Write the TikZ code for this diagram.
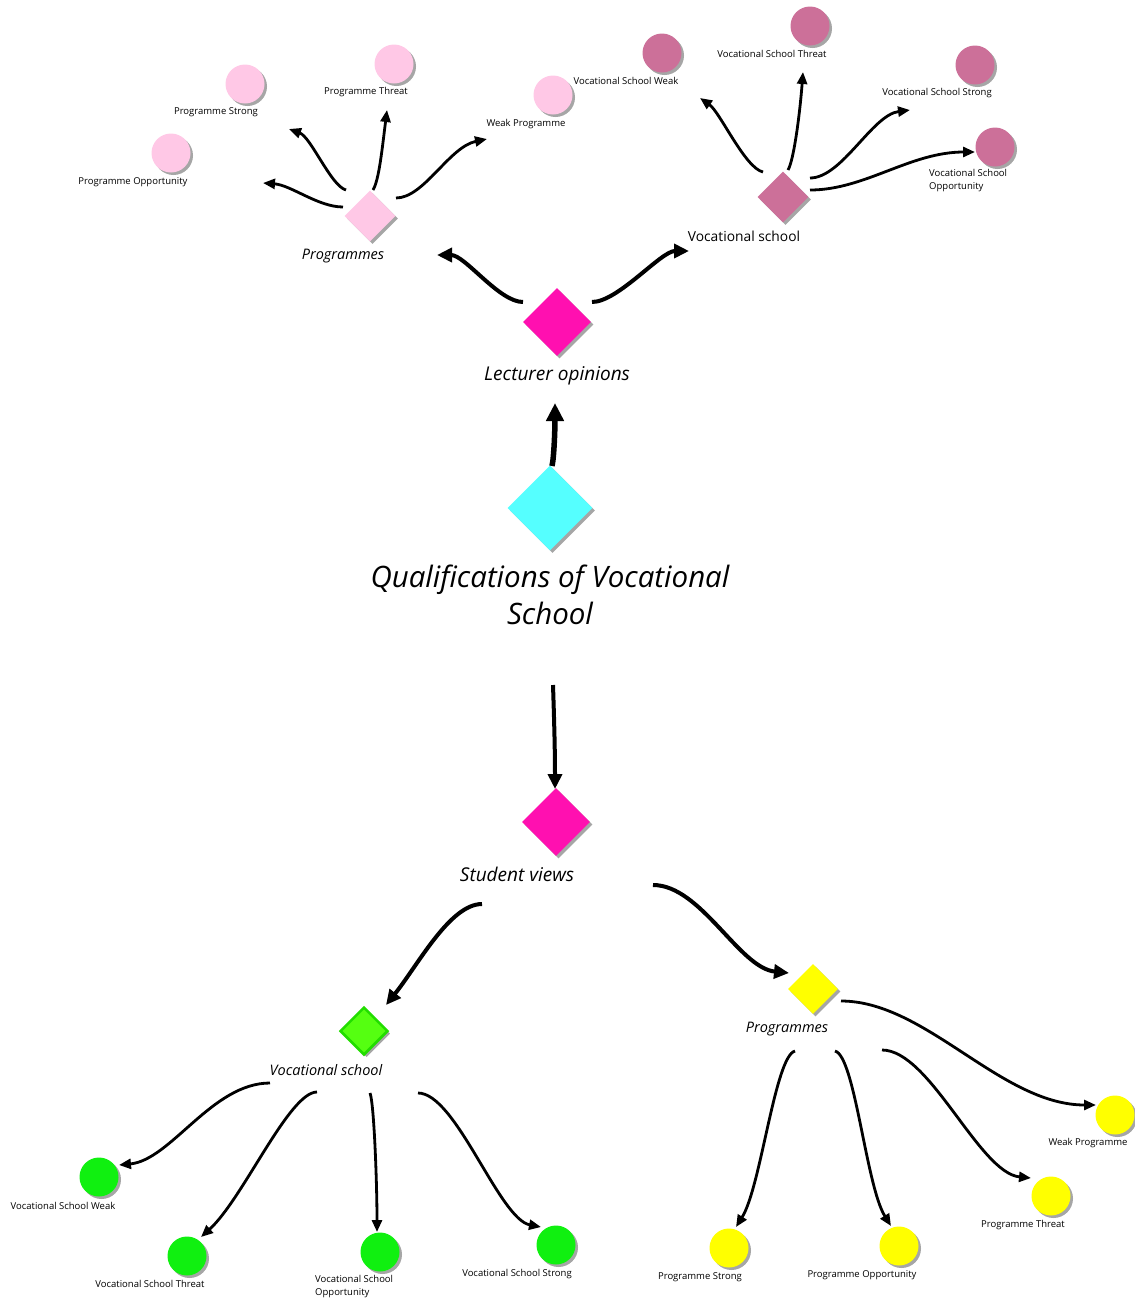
\documentclass[tikz,border=0pt]{standalone}
\usepackage{fontspec}
\setmainfont{Open Sans}
\usetikzlibrary{arrows.meta,shapes.geometric,shadows}

\definecolor{pinkL}{HTML}{FFC8E6}
\definecolor{mauve}{HTML}{CC7099}
\definecolor{magHot}{HTML}{FF10B0}
\definecolor{cyanQ}{HTML}{55FFFF}
\definecolor{grnC}{HTML}{10F010}
\definecolor{grnD}{HTML}{55FF11}
\definecolor{grnE}{HTML}{22DD00}
\definecolor{yelC}{HTML}{FFFF00}

\begin{document}
\begin{tikzpicture}[x=1pt, y=-1pt,
  shad/.style={drop shadow={shadow xshift=2.5pt, shadow yshift=-2.5pt, fill=black!35, opacity=1}},
  dia/.style={diamond, inner sep=0pt, minimum width=#1, minimum height=#1, shad},
  bub/.style={circle, inner sep=0pt, minimum size=39pt, shad},
  lbl/.style={inner sep=0pt, font=\fontsize{9.5}{13}\selectfont},
  hdM/.style={inner sep=0pt, font=\fontsize{14.5}{17}\selectfont\itshape},
  hdL/.style={inner sep=0pt, font=\fontsize{19}{23}\selectfont\itshape},
  link/.style={line width=2.8pt, -{Stealth[length=12pt, width=10pt, inset=0pt]}},
  linkB/.style={line width=4pt, -{Stealth[length=15pt, width=14pt, inset=0pt]}},
  linkC/.style={line width=5.5pt, -{Stealth[length=18pt, width=17pt, inset=0pt]}}]

  % ── centre ──
  \node[dia=85pt, fill=cyanQ] (qv) at (550,508) {};
  \node[inner sep=0pt, align=center, font=\fontsize{29.5}{37}\selectfont\itshape] (qvT) at (550,595)
    {Qualifications of Vocational\\School};

  \node[dia=68pt, fill=magHot] (lo) at (557,322) {};
  \node[hdL] (loT) at (557,376) {Lecturer opinions};

  \node[dia=68pt, fill=magHot] (sv) at (556,822) {};
  \node[hdL] (svT) at (517,874) {Student views};

  % ── lecturer: programmes ──
  \node[dia=51pt, fill=pinkL] (pgT) at (370,216) {};
  \node[hdM] (pgTT) at (343,256) {Programmes};
  \node[bub, fill=pinkL] (pgTs) at (245,84) {};
  \node[bub, fill=pinkL] (pgTt) at (394,64) {};
  \node[bub, fill=pinkL] (pgTo) at (171,153) {};
  \node[bub, fill=pinkL] (pgTw) at (553,95) {};
  \node[lbl] at (216,112) {Programme Strong};
  \node[lbl] at (366,92) {Programme Threat};
  \node[lbl] at (133,182) {Programme Opportunity};
  \node[lbl] at (526,124) {Weak Programme};

  % ── lecturer: vocational school ──
  \node[dia=51pt, fill=mauve] (vsT) at (783,197) {};
  \node[inner sep=0pt, font=\fontsize{13.8}{16}\selectfont] (vsTT) at (744,236) {Vocational school};
  \node[bub, fill=mauve] (vsTw) at (662,53) {};
  \node[bub, fill=mauve] (vsTt) at (810,26) {};
  \node[bub, fill=mauve] (vsTs) at (975,65) {};
  \node[bub, fill=mauve] (vsTo) at (995,147) {};
  \node[lbl] at (626,81) {Vocational School Weak};
  \node[lbl] at (772,54) {Vocational School Threat};
  \node[lbl] at (937,93) {Vocational School Strong};
  \node[lbl, anchor=west, align=left] at (929,181) {Vocational School\\Opportunity};

  % ── student: vocational school ──
  \node[dia=48pt, fill=grnD, draw=grnE, line width=2.5pt] (vsB) at (364,1031) {};
  \node[hdM] (vsBT) at (326,1070) {Vocational school};
  \node[bub, fill=grnC] (vsBw) at (99,1177) {};
  \node[bub, fill=grnC] (vsBt) at (187,1256) {};
  \node[bub, fill=grnC] (vsBo) at (380,1252) {};
  \node[bub, fill=grnC] (vsBs) at (556,1245) {};
  \node[lbl] at (63,1206) {Vocational School Weak};
  \node[lbl] at (150,1284) {Vocational School Threat};
  \node[lbl, anchor=west, align=left] at (315,1287) {Vocational School\\Opportunity};
  \node[lbl] at (517,1274) {Vocational School Strong};

  % ── student: programmes ──
  \node[dia=50pt, fill=yelC] (pgB) at (813,989) {};
  \node[hdM] (pgBT) at (787,1029) {Programmes};
  \node[bub, fill=yelC] (pgBw) at (1115,1115) {};
  \node[bub, fill=yelC] (pgBt) at (1051,1196) {};
  \node[bub, fill=yelC] (pgBs) at (729,1248) {};
  \node[bub, fill=yelC] (pgBo) at (899,1246) {};
  \node[lbl] at (1088,1143) {Weak Programme};
  \node[lbl] at (1023,1225) {Programme Threat};
  \node[lbl] at (700,1277) {Programme Strong};
  \node[lbl] at (862,1275) {Programme Opportunity};

  % ── main arrows ──
  \draw[linkC] ([shift={(2,-42)}]qv.center) .. controls +(2,-8) and +(0,25) .. ([shift={(-2,81)}]lo.center);
  \draw[linkB] ([shift={(3,177)}]qv.center) .. controls +(1,30) and +(0,-40) .. ([shift={(-1,-33)}]sv.center);
  \draw[linkB] ([shift={(-34,-20)}]lo.center) .. controls +(-24,0) and +(28,0) .. ([shift={(67,39)}]pgT.center);
  \draw[linkB] ([shift={(35,-20)}]lo.center) .. controls +(26,0) and +(-28,0) .. ([shift={(-94,54)}]vsT.center);
  \draw[linkB] ([shift={(-74,82)}]sv.center) .. controls +(-32,0) and +(32,-40) .. ([shift={(22,-26)}]vsB.center);
  \draw[linkB] ([shift={(97,63)}]sv.center) .. controls +(48,0) and +(-50,-5) .. ([shift={(-24,-16)}]pgB.center);

  % ── top left ──
  \draw[link] ([shift={(-27,-9)}]pgT.center) .. controls +(-25,0) and +(28,2) .. ([shift={(92,30)}]pgTo.center);
  \draw[link] ([shift={(-24,-26)}]pgT.center) .. controls +(-15,-4) and +(22,8) .. ([shift={(44,45)}]pgTs.center);
  \draw[link] ([shift={(3,-26)}]pgT.center) .. controls +(6,-10) and +(-5,40) .. ([shift={(-7,46)}]pgTt.center);
  \draw[link] ([shift={(26,-18)}]pgT.center) .. controls +(28,0) and +(-38,8) .. ([shift={(-66,44)}]pgTw.center);

  % ── top right ──
  \draw[link] ([shift={(-20,-25)}]vsT.center) .. controls +(-18,-4) and +(20,14) .. ([shift={(38,45)}]vsTw.center);
  \draw[link] ([shift={(5,-27)}]vsT.center) .. controls +(6,-10) and +(-3,40) .. ([shift={(-7,46)}]vsTt.center);
  \draw[link] ([shift={(27,-19)}]vsT.center) .. controls +(32,0) and +(-38,5) .. ([shift={(-65,45)}]vsTs.center);
  \draw[link] ([shift={(27,-7)}]vsT.center) .. controls +(55,0) and +(-65,0) .. ([shift={(-20,5)}]vsTo.center);

  % ── bottom left ──
  \draw[link] ([shift={(-94,52)}]vsB.center) .. controls +(-58,0) and +(52,-5) .. ([shift={(20,-12)}]vsBw.center);
  \draw[link] ([shift={(-47,61)}]vsB.center) .. controls +(-28,0) and +(42,-38) .. ([shift={(14,-19)}]vsBt.center);
  \draw[link] ([shift={(6,62)}]vsB.center) .. controls +(4,10) and +(0,-50) .. ([shift={(-3,-20)}]vsBo.center);
  \draw[link] ([shift={(54,62)}]vsB.center) .. controls +(38,0) and +(-42,-8) .. ([shift={(-15,-18)}]vsBs.center);

  % ── bottom right ──
  \draw[link] ([shift={(28,12)}]pgB.center) .. controls +(85,0) and +(-95,0) .. ([shift={(-19,-10)}]pgBw.center);
  \draw[link] ([shift={(69,61)}]pgB.center) .. controls +(48,0) and +(-52,-5) .. ([shift={(-20,-18)}]pgBt.center);
  \draw[link] ([shift={(22,62)}]pgB.center) .. controls +(20,5) and +(-25,-40) .. ([shift={(-8,-20)}]pgBo.center);
  \draw[link] ([shift={(-18,62)}]pgB.center) .. controls +(-20,5) and +(25,-40) .. ([shift={(7,-21)}]pgBs.center);

  \useasboundingbox (0,0) rectangle (1130,1299);
\end{tikzpicture}
\end{document}
